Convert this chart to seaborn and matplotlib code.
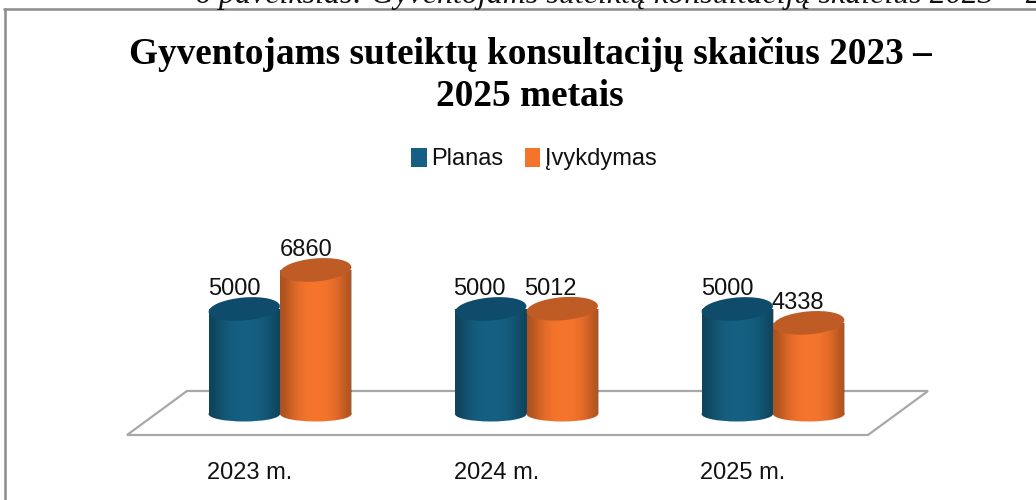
# %%
"""Gyventojams suteiktu konsultaciju skaicius, cilindrai is seaborn stulpeliu."""

import matplotlib
matplotlib.use("Agg")
import matplotlib.pyplot as plt
from matplotlib.lines import Line2D
from matplotlib.patches import Ellipse, Polygon
from matplotlib.transforms import IdentityTransform, ScaledTranslation
import numpy as np
import pandas as pd
import seaborn as sns

metai = ["2023 m.", "2024 m.", "2025 m."]
planas = [5000, 5000, 5000]
ivykdymas = [6860, 5012, 4338]

W, H = 1036, 500
SANS = "Liberation Sans"
SERIF = "Liberation Serif"

df = pd.DataFrame({
    "metai": metai * 2,
    "reiksme": planas + ivykdymas,
    "serija": ["Planas"] * 3 + ["Įvykdymas"] * 3,
})

sns.set_theme(style="white")
plt.rcParams["font.family"] = [SANS, "DejaVu Sans"]

fig = plt.figure(figsize=(W / 100, H / 100), dpi=100, facecolor="white")
ax = fig.add_axes([0, (H - 436) / H, 1, (436 - 190) / H])
ax.patch.set_alpha(0)

sns.barplot(
    data=df, x="metai", y="reiksme", hue="serija",
    palette=["#156082", "#F4742C"], width=0.58, gap=0, saturation=1,
    linewidth=0, ax=ax,
)

# 1 vnt. = 0.021 px, pagrindas ties y = 414 px
ax.set_xlim(-280 / 246.5, (W - 280) / 246.5)
ax.set_ylim(-(436 - 414) / 0.021, (414 - 190) / 0.021)
ax.set(xlabel="", ylabel="", yticks=[])
sns.despine(ax=ax, left=True, bottom=True)

ax.tick_params(axis="x", length=0, pad=19, labelsize=17, labelcolor="#111111")
for lab in ax.get_xticklabels():
    lab.set_transform(lab.get_transform() + ScaledTranslation(-30 / 100, 0, fig.dpi_scale_trans))

# grindys
ax.add_patch(Polygon(
    [(127 / W, 1 - 435 / H), (868 / W, 1 - 435 / H), (928 / W, 1 - 391 / H), (187 / W, 1 - 391 / H)],
    closed=True, fill=False, edgecolor="#a8a8a8", linewidth=1.6,
    transform=fig.transFigure, zorder=0.5, clip_on=False,
))

# sonu seseliai, kad stulpelis atrodytu apvalus
seselis = np.zeros((1, 9, 4))
seselis[0, :, 3] = [0.30, 0.14, 0.05, 0.0, 0.0, 0.0, 0.04, 0.12, 0.28]

kaire, desine = [-10, -11, -10], [-10, -12, -11]
poslinkiai = [kaire, desine]
tamsus = ["#0F4C6B", "#BF5C26"]
eile = 2

for s, cont in enumerate(ax.containers):
    for b, bar in enumerate(cont.patches):
        bar.set_zorder(eile)
        x0, x1 = bar.get_x(), bar.get_x() + bar.get_width()
        cx = (x0 + x1) / 2
        v = bar.get_height()
        spalva = bar.get_facecolor()
        px_apacia = ax.transData.transform((cx, 0))
        px_virsus = ax.transData.transform((cx, v))
        plotis = abs(ax.transData.transform((x1, 0))[0] - ax.transData.transform((x0, 0))[0])

        apacia = Ellipse(px_apacia, plotis, 15, facecolor=spalva, linewidth=0,
                         transform=IdentityTransform(), zorder=eile - 0.5, clip_on=False)
        ax.add_patch(apacia)
        for forma, z in ((apacia, eile - 0.4), (bar, eile + 0.1)):
            im = ax.imshow(seselis, extent=(x0, x1, -1000, v), aspect="auto",
                           interpolation="bicubic", zorder=z)
            im.set_clip_path(forma)
        ax.add_patch(Ellipse(px_virsus, plotis, 23, angle=5, facecolor=tamsus[s], linewidth=0,
                             transform=IdentityTransform(), zorder=eile + 0.2, clip_on=False))
        ax.annotate(f"{v:.0f}", (cx, v), xytext=(poslinkiai[s][b] * 0.72, 20 * 0.72),
                    textcoords="offset points", ha="center", va="center",
                    fontsize=17, color="#111111", zorder=20, annotation_clip=False)
        eile += 1

ax.set_xlim(-280 / 246.5, (W - 280) / 246.5)
ax.set_ylim(-(436 - 414) / 0.021, (414 - 190) / 0.021)

sns.move_legend(
    ax, "center", bbox_to_anchor=(534 / W, 1 - 159 / H), bbox_transform=fig.transFigure,
    ncol=2, frameon=False, title=None, fontsize=17, handlelength=0.65, handleheight=0.85,
    handletextpad=0.2, columnspacing=0.9, labelcolor="#111111",
)

fig.text(530 / W, 1 - 55 / H, "Gyventojams suteiktų konsultacijų skaičius 2023 –",
         family=SERIF, weight="bold", fontsize=26.8, ha="center", va="center", color="black")
fig.text(530 / W, 1 - 96 / H, "2025 metais",
         family=SERIF, weight="bold", fontsize=26.8, ha="center", va="center", color="black")

# nukirptas dokumento antraste ir remelis
fig.text(195 / W, 1 - 3 / H, "6 paveikslas: Gyventojams suteiktų konsultacijų skaičius 2023 – 2025 metais",
         family=SERIF, style="italic", fontsize=23, ha="left", va="baseline", color="#111111")
fig.add_artist(Line2D([5 / W, 5 / W], [0, 1 - 9 / H], color="#8c8c8c", linewidth=1.8))
fig.add_artist(Line2D([4 / W, 1], [1 - 9 / H, 1 - 9 / H], color="#8c8c8c", linewidth=1.8))

fig.savefig("out.png", dpi=100)
